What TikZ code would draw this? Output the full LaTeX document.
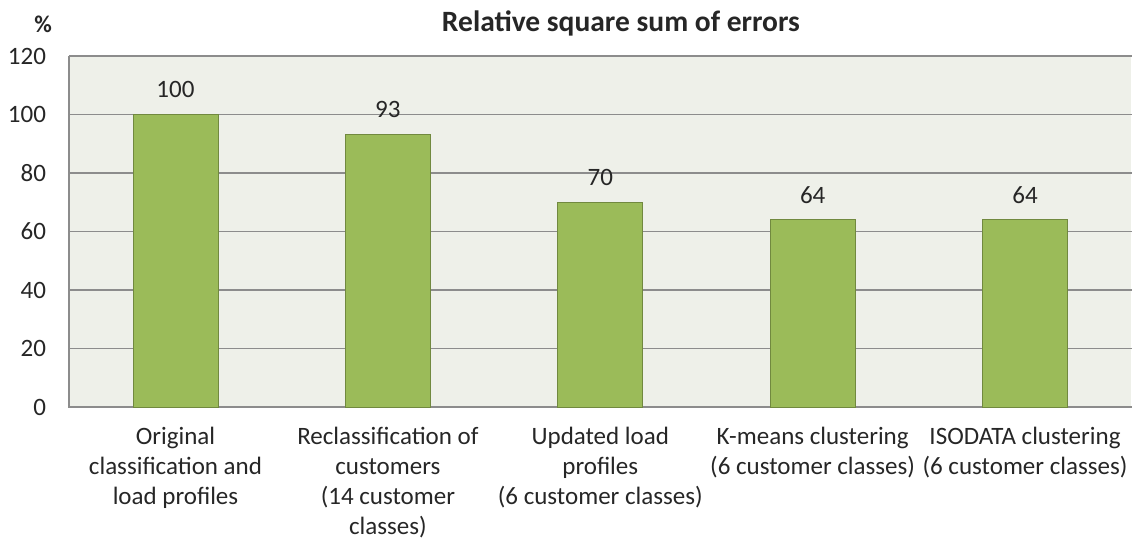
\documentclass[tikz,border=0pt]{standalone}
\usepackage{fontspec}
\setmainfont{Carlito}
\begin{document}
\begin{tikzpicture}[x=1pt,y=-1pt,
  every node/.style={inner sep=0pt, outer sep=0pt, text=black!85},
  tick/.style={anchor=east, font=\fontsize{25}{30}\selectfont},
  vallabel/.style={anchor=center, font=\fontsize{25}{30}\selectfont},
  catlabel/.style={anchor=north, align=center, font=\fontsize{25}{30}\selectfont},
  grid line/.style={draw=gridgray, line width=1.3pt},
  bar/.style={fill=barfill, draw=baredge, line width=1pt}]
\definecolor{plotbg}{HTML}{EEF0E9}
\definecolor{barfill}{HTML}{9BBB59}
\definecolor{baredge}{HTML}{71893F}
\definecolor{gridgray}{HTML}{8C8C8C}
\useasboundingbox (0,0) rectangle (1132,540);
% plot area
\fill[plotbg] (69,56) rectangle (1131,407);
\foreach \v in {20,40,...,120}
  \draw[grid line] (69,{407-\v*2.925}) -- (1132,{407-\v*2.925});
\draw[grid line] (69,56) -- (69,407) -- (1132,407);
% y tick labels
\foreach \v in {0,20,...,120}
  \node[tick] (t\v) at (46,{407-\v*2.925}) {\v};
% axis unit and title
\node[anchor=base, font=\bfseries\fontsize{24}{28}\selectfont] (unit) at (43,33) {\%};
\node[anchor=base, font=\bfseries\fontsize{29.5}{34}\selectfont] (title) at (621,32) {Relative square sum of errors};
% bars with value labels
\foreach \i/\val in {0/100,1/93,2/70,3/64,4/64} {
  \pgfmathsetmacro{\cx}{175.5+\i*212.4}
  \draw[bar] ({\cx-42.5},407) rectangle ({\cx+42.5},{407-\val*2.925});
  \node[vallabel] (v\i) at (\cx,{407-\val*2.925-25}) {\val};
}
% category labels
\node[catlabel] (c0) at (175.5,427) {Original\\classification and\\load profiles};
\node[catlabel] (c1) at (387.9,427) {Reclassification of\\customers\\(14 customer\\classes)};
\node[catlabel] (c2) at (600.3,427) {Updated load\\profiles\\(6 customer classes)};
\node[catlabel] (c3) at (812.6,427) {K-means clustering\\(6 customer classes)};
\node[catlabel] (c4) at (1025,427) {ISODATA clustering\\(6 customer classes)};
\end{tikzpicture}
\end{document}
